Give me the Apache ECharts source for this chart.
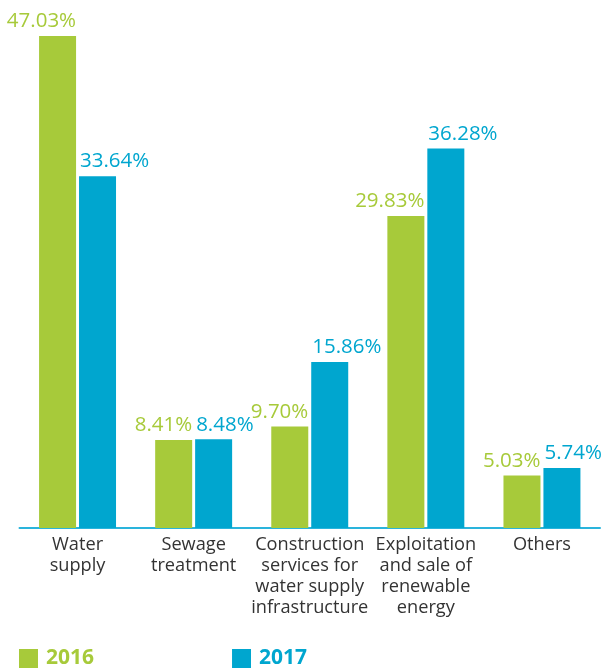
<!DOCTYPE html>
<html>
<head>
<meta charset="utf-8">
<script src="https://cdn.jsdelivr.net/npm/echarts@6/dist/echarts.min.js"></script>
<style>
  html, body { margin: 0; padding: 0; background: #fff; }
  #chart { width: 603px; height: 671px; }
</style>
</head>
<body>
<div id="chart"></div>
<script>
// Categories (axis labels, with explicit line breaks)
const categories = [
  'Water\nsupply',
  'Sewage\ntreatment',
  'Construction\nservices for\nwater supply\ninfrastructure',
  'Exploitation\nand sale of\nrenewable\nenergy',
  'Others'
];
const seriesNames = ['2016', '2017'];
const values2016 = [47.03, 8.41, 9.70, 29.83, 5.03];
const values2017 = [33.64, 8.48, 15.86, 36.28, 5.74];

const GREEN = '#a7ca3a';
const BLUE = '#00a6cf';
const FONT = 'Open Sans';

const chart = echarts.init(document.getElementById('chart'));

function pct(p) { return p.value.toFixed(2) + '%'; }

chart.setOption({
  animation: false,
  textStyle: { fontFamily: FONT },
  grid: { left: 19.5, right: 3, top: 5, bottom: 143, containLabel: false },
  legend: {
    left: 19,
    bottom: 2,
    padding: 0,
    itemWidth: 19,
    itemHeight: 19,
    itemGap: 138,
    icon: 'rect',
    textStyle: { fontSize: 21, fontWeight: 'bold', fontFamily: FONT, padding: [0, 0, 0, 3] },
    data: [
      { name: seriesNames[0], textStyle: { color: GREEN } },
      { name: seriesNames[1], textStyle: { color: BLUE } }
    ]
  },
  xAxis: {
    type: 'category',
    data: categories,
    axisLine: { lineStyle: { color: '#2ab4dc', width: 2 } },
    axisTick: { show: false },
    axisLabel: {
      color: '#333333',
      fontSize: 18.2,
      lineHeight: 21.2,
      margin: 6,
      interval: 0,
      fontFamily: FONT
    }
  },
  yAxis: {
    type: 'value',
    min: 0,
    max: 50,
    show: false,
    splitLine: { show: false }
  },
  series: [
    {
      name: seriesNames[0],
      type: 'bar',
      data: values2016,
      barWidth: 37,
      barGap: '8%',
      itemStyle: { color: GREEN },
      label: {
        show: true,
        position: 'top',
        distance: 4,
        align: 'right',
        offset: [18.5, 0],
        color: GREEN,
        fontSize: 20.5,
        fontWeight: 500,
        fontFamily: FONT,
        formatter: pct
      }
    },
    {
      name: seriesNames[1],
      type: 'bar',
      data: values2017,
      barWidth: 37,
      barGap: '8%',
      itemStyle: { color: BLUE },
      label: {
        show: true,
        position: 'top',
        distance: 4,
        align: 'left',
        offset: [-17.5, 0],
        color: BLUE,
        fontSize: 20.5,
        fontWeight: 500,
        fontFamily: FONT,
        formatter: pct
      }
    }
  ]
});
</script>
</body>
</html>
